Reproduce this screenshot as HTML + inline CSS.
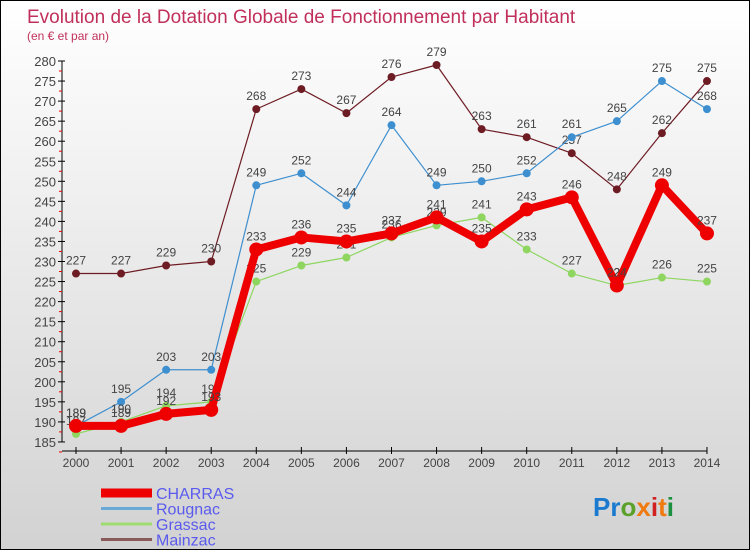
<!DOCTYPE html>
<html><head><meta charset="utf-8"><style>
body{margin:0}
#c{width:750px;height:550px;position:relative;box-sizing:border-box;border:1px solid #000;background:linear-gradient(#fff 0%,#f4f4f4 25%,#d2d2d2 100%);font-family:"Liberation Sans",sans-serif;overflow:hidden}
</style></head><body>
<div id="c">
<svg id="s" width="750" height="550" style="position:absolute;left:0;top:0">
<text x="26" y="22" font-size="19" fill="#c0305a">Evolution de la Dotation Globale de Fonctionnement par Habitant</text>
<text x="26" y="39" font-size="12" fill="#c0305a">(en € et par an)</text>
<g id="g"></g>
<text x="592" y="515" font-size="26" font-weight="bold"><tspan fill="#1a7ad0">Pr</tspan><tspan fill="#5aa02a">o</tspan><tspan fill="#f07a10">x</tspan><tspan fill="#d02020">i</tspan><tspan fill="#f07a10">t</tspan><tspan fill="#1a9040">i</tspan></text>
</svg>
</div>
<script>
const years=[2000,2001,2002,2003,2004,2005,2006,2007,2008,2009,2010,2011,2012,2013,2014];
const charras=[189,189,192,193,233,236,235,237,241,235,243,246,224,249,237];
const rougnac=[189,195,203,203,249,252,244,264,249,250,252,261,265,275,268];
const grassac=[187,190,194,195,225,229,231,236,239,241,233,227,224,226,225];
const mainzac=[227,227,229,230,268,273,267,276,279,263,261,257,248,262,275];
const yTicks=[185,190,195,200,205,210,215,220,225,230,235,240,245,250,255,260,265,270,275,280];
const NS="http://www.w3.org/2000/svg";
const g=document.getElementById('g');
const X=i=>75+i*45.07, Y=v=>60+(280-v)*4.01;
function el(t,a,p){const e=document.createElementNS(NS,t);for(const k in a)e.setAttribute(k,a[k]);(p||g).appendChild(e);return e;}
let ax=el('line',{x1:61,y1:60,x2:61,y2:441,stroke:'#000'});


let bx=el('line',{x1:61,y1:450,x2:X(14),y2:450,stroke:'#000'});


yTicks.forEach(v=>{el('line',{x1:57,y1:Y(v),x2:64,y2:Y(v),stroke:'#000'});
el('line',{x1:58,y1:Y(v)+10,x2:61,y2:Y(v)+10,stroke:'#e00'});
const t=el('text',{x:55,y:Y(v)+5,'font-size':13,fill:'#444','text-anchor':'end'});t.textContent=v;

});
years.forEach((y,i)=>{el('line',{x1:X(i),y1:446,x2:X(i),y2:453,stroke:'#000'});
const t=el('text',{x:X(i),y:466,'font-size':12,fill:'#444','text-anchor':'middle'});t.textContent=y;

});
function series(d,col,w,r,name){
const p=el('polyline',{points:d.map((v,i)=>X(i)+','+Y(v)).join(' '),fill:'none',stroke:col,'stroke-width':w,'stroke-linejoin':'round'});


d.forEach((v,i)=>{const c=el('circle',{cx:X(i),cy:Y(v),r:r,fill:col});


const t=el('text',{x:X(i),y:Y(v)-9,'font-size':12,fill:'#444','text-anchor':'middle'});t.textContent=v;

});}
series(mainzac,'#6e1c24',1.2,4,'mainzac');
series(rougnac,'#3e8fcf',1.2,4,'rougnac');
series(grassac,'#8ed660',1.2,4,'grassac');
series(charras,'#ee0000',8,7,'charras');
const leg=[['CHARRAS','#ee0000',9],['Rougnac','#6aa8d8',3],['Grassac','#9edc70',3],['Mainzac','#8a5a5a',3]];
leg.forEach((l,i)=>{const y=492+i*15.5;
const ln=el('line',{x1:100,y1:y,x2:151,y2:y,stroke:l[1],'stroke-width':l[2]});


const t=el('text',{x:155,y:y+6,'font-size':16,fill:'#5a5aee'});t.textContent=l[0];

});
</script>
</body></html>
